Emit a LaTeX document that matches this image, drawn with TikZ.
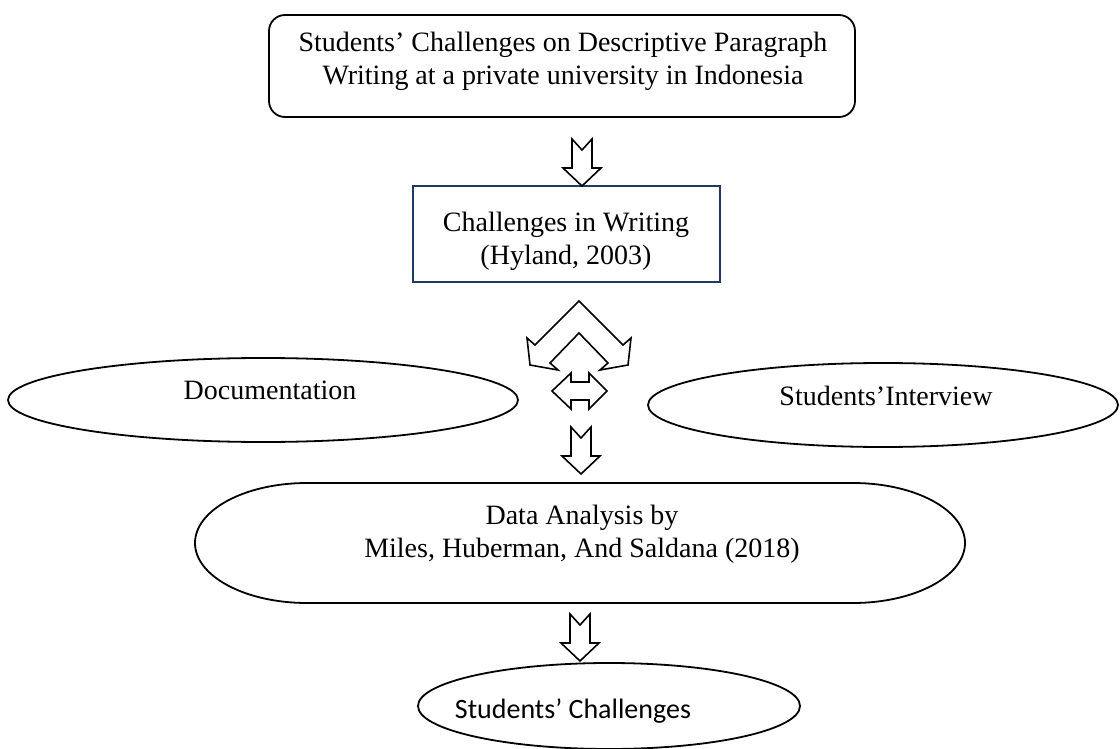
\documentclass[tikz,border=0pt]{standalone}
\usepackage{fontspec}
\setmainfont{Liberation Serif}
\newfontfamily\calibri{Carlito}
\usetikzlibrary{shapes.geometric}
\definecolor{navy}{RGB}{31,56,100}
\tikzset{
  shapeline/.style={draw=black, line width=1.8pt},
  txt/.style={align=center, font=\fontsize{28}{33}\selectfont, inner sep=0pt},
  arrowshape/.style={draw=black, line width=1.6pt, fill=white, line join=miter},
  blockdown/.pic={\draw[arrowshape] (-10,0) -- (0,-11) -- (10,0) -- (10,-29) -- (19,-29) -- (0,-47) -- (-19,-29) -- (-10,-29) -- cycle;}
}
\begin{document}
\begin{tikzpicture}[x=1pt,y=1pt]
\useasboundingbox (0,0) rectangle (1120,-749);

% top box
\node[shapeline, rounded corners=16pt, minimum width=586pt, minimum height=102pt, inner sep=0pt] (top) at (562,-66) {};
\node[txt] (toptext) at (563,-61) {Students’ Challenges on Descriptive Paragraph\\ Writing at a private university in Indonesia};

% box 2
\node[draw=navy, line width=2pt, minimum width=307pt, minimum height=96pt, inner sep=0pt] (hyland) at (566.5,-234) {};
\node[txt] (hylandtext) at (566,-241) {Challenges in Writing\\ (Hyland, 2003)};

% ellipses
\node[ellipse, shapeline, minimum width=510pt, minimum height=84pt, inner sep=0pt] (doc) at (263,-400) {};
\node[txt] (doctext) at (270,-390) {Documentation};
\node[ellipse, shapeline, minimum width=470pt, minimum height=84pt, inner sep=0pt] (intv) at (883,-405) {};
\node[txt] (intvtext) at (886,-396) {Students\char"27 Interview};

% data analysis
\draw[shapeline] (307,-483) -- (853,-483) arc[start angle=90, end angle=-90, x radius=112, y radius=60] -- (307,-603) arc[start angle=270, end angle=90, x radius=112, y radius=60] -- cycle;
\coordinate (da) at (580,-543);
\node[txt] (datext) at (582,-534) {Data Analysis by\\ Miles, Huberman, And Saldana (2018)};

% final ellipse
\node[ellipse, shapeline, minimum width=382pt, minimum height=86pt, inner sep=0pt] (res) at (609,-706) {};
\node[txt, font=\calibri\fontsize{28}{33}\selectfont] (restext) at (573,-711) {Students’ Challenges};

% block arrows
\pic at (582,-139) {blockdown};
\pic at (581,-427) {blockdown};
\pic at (580,-614) {blockdown};

% bent double arrow
\draw[arrowshape] (579,-301) -- (623,-345) -- (631,-338) -- (628,-365) -- (600,-370) -- (608,-363) -- (579,-333) -- (550,-363) -- (558,-370) -- (530,-365) -- (527,-338) -- (535,-345) -- cycle;

% horizontal double arrow
\draw[arrowshape] (552,-391) -- (571,-373) -- (571,-382) -- (589,-382) -- (589,-373) -- (607,-391) -- (589,-409) -- (589,-400) -- (571,-400) -- (571,-409) -- cycle;
\end{tikzpicture}
\end{document}
